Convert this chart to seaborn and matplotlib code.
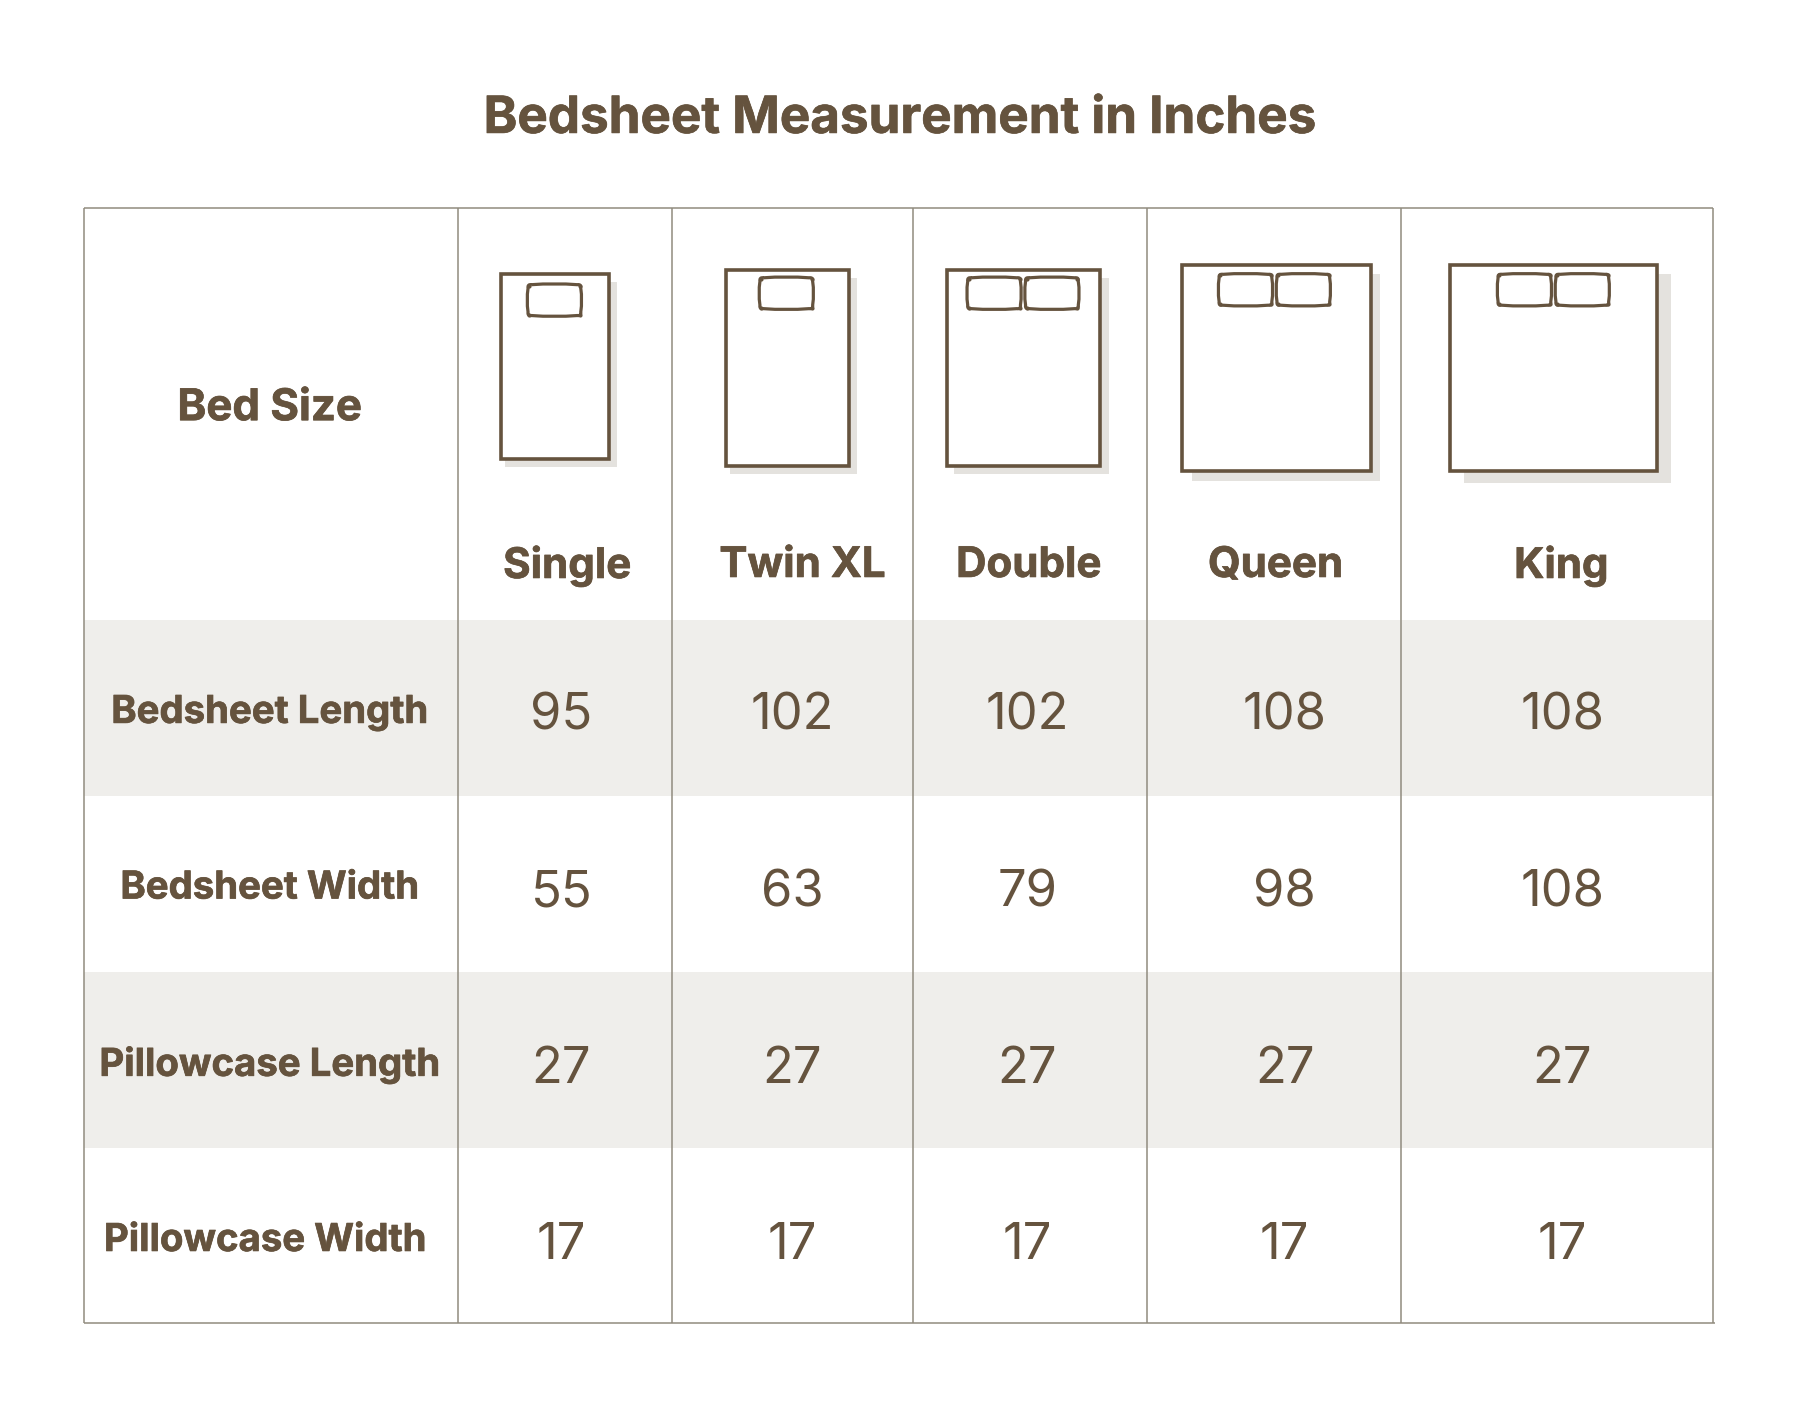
import numpy as np
import matplotlib
matplotlib.use("Agg")
import matplotlib.pyplot as plt
import matplotlib.patheffects as pe
from matplotlib.patches import Rectangle, PathPatch
from matplotlib.path import Path
from matplotlib.colors import ListedColormap
import seaborn as sns

# ---- data ----
title = "Bedsheet Measurement in Inches"
corner_label = "Bed Size"
bed_sizes = ["Single", "Twin XL", "Double", "Queen", "King"]
row_labels = ["Bedsheet Length", "Bedsheet Width", "Pillowcase Length", "Pillowcase Width"]
bedsheet_length = [95, 102, 102, 108, 108]
bedsheet_width = [55, 63, 79, 98, 108]
pillowcase_length = [27, 27, 27, 27, 27]
pillowcase_width = [17, 17, 17, 17, 17]
pillow_count = [1, 1, 2, 2, 2]

# ---- layout (reference pixels) ----
S = 1800 / 1568
TXT = "#65533e"
GRID = "#918b7f"
BAND = "#efeeeb"
SHADOW = "#e4e2de"
col_edges = [73.1, 399.1, 585.1, 795.1, 999.1, 1220.1, 1492.1]
row_edges = [181.1, 540, 693, 847, 1000, 1153]
value_x = [489, 690, 895, 1119, 1361]
value_y = [624, 778, 932, 1085]
label_x = [235, 235, 235, 231]
label_y = [621, 774, 928, 1081]
name_x = [494, 699, 896, 1111, 1360]
name_y = [493, 493, 493, 493, 493]
bed_left = [436, 632, 825, 1030, 1263]
bed_top = [239, 235, 235, 231, 231]
shadow_l = [4, 4, 6, 8, 12]
shadow_r = [7, 7, 8, 8, 12]
shadow_t = [7, 7, 7, 8, 8]
shadow_b = [7, 7, 7, 8, 10]
pillow_left = [460, 662, 843, 1062, 1305]
pillow_top = [248, 242, 242, 239, 239]
pillow_gap = 4.5

sns.set_theme(style="white")
plt.rcParams["font.family"] = ["Inter", "DejaVu Sans"]

fig = plt.figure(figsize=(18, 14.02), dpi=100, facecolor="white")

# striped body rows, drawn as a one-column heatmap
W, H = 1568.0, 1402 / S
ax_band = fig.add_axes([col_edges[0] / W, 1 - row_edges[-1] / H,
                        (col_edges[-1] - col_edges[0]) / W,
                        (row_edges[-1] - row_edges[1]) / H])
stripes = np.array([[(i + 1) % 2] for i in range(len(row_labels))])
sns.heatmap(stripes, ax=ax_band, cbar=False, cmap=ListedColormap(["white", BAND]),
            xticklabels=False, yticklabels=False, vmin=0, vmax=1)

# overlay in reference pixels
ax = fig.add_axes([0, 0, 1, 1], facecolor="none")
ax.set_xlim(0, W)
ax.set_ylim(H, 0)
ax.axis("off")

bottom = row_edges[-1] - 0.6
for x in col_edges:
    ax.plot([x, x], [row_edges[0], bottom], color=GRID, lw=1.1, solid_capstyle="butt")
ax.plot([col_edges[0], col_edges[-1]], [row_edges[0]] * 2, color=GRID, lw=1.1, solid_capstyle="butt")
ax.plot([col_edges[0], col_edges[-1] + 2], [bottom] * 2, color=GRID, lw=1.1, solid_capstyle="butt")

heavy = [pe.withStroke(linewidth=0.5, foreground=TXT)]


def pillow(x, y, w, h):
    b, r = 1.6, 3.0
    v = [(x + r, y), (x + w / 2, y - b), (x + w - r, y),
         (x + w + 0.6, y - 0.6), (x + w, y + r),
         (x + w + b, y + h / 2), (x + w, y + h - r),
         (x + w + 0.6, y + h + 0.6), (x + w - r, y + h),
         (x + w / 2, y + h + b), (x + r, y + h),
         (x - 0.6, y + h + 0.6), (x, y + h - r),
         (x - b, y + h / 2), (x, y + r),
         (x - 0.6, y - 0.6), (x + r, y)]
    codes = [Path.MOVETO] + [Path.CURVE3] * 16
    ax.add_patch(PathPatch(Path(v, codes), fc="white", ec=TXT, lw=2.3, joinstyle="round", zorder=5))
    for cx in (x + 0.8, x + w - 0.8):
        for cy in (y + 0.8, y + h - 0.8):
            ax.plot([cx], [cy], "o", ms=3.0, color=TXT, mew=0, zorder=6)


for i, name in enumerate(bed_sizes):
    w = bedsheet_width[i] * 1.62 + 5.5
    h = bedsheet_length[i] * 1.45 + 23
    ax.add_patch(Rectangle((bed_left[i] + shadow_l[i], bed_top[i] + shadow_t[i]),
                           w + shadow_r[i] - shadow_l[i], h + shadow_b[i] - shadow_t[i],
                           fc=SHADOW, ec="none", zorder=2))
    ax.add_patch(Rectangle((bed_left[i], bed_top[i]), w, h, fc="white", ec=TXT, lw=2.6, zorder=3))
    pw, ph = pillowcase_length[i] * 1.7, pillowcase_width[i] * 1.58
    for k in range(pillow_count[i]):
        pillow(pillow_left[i] + k * (pw + pillow_gap), pillow_top[i], pw, ph)
    ax.text(name_x[i], name_y[i], name, ha="center", va="center", color=TXT,
            fontsize=30.3, fontweight="bold", path_effects=heavy)

ax.text(784, 104, title, ha="center", va="center", color=TXT, fontsize=36.8,
        fontweight="bold", path_effects=heavy)
ax.text(235, 356, corner_label, ha="center", va="center", color=TXT, fontsize=31.5,
        fontweight="bold", path_effects=heavy)

table = [bedsheet_length, bedsheet_width, pillowcase_length, pillowcase_width]
for r, label in enumerate(row_labels):
    ax.text(label_x[r], label_y[r], label, ha="center", va="center", color=TXT,
            fontsize=27.6, fontweight="bold", path_effects=heavy)
    for c, val in enumerate(table[r]):
        ax.text(value_x[c], value_y[r], str(val), ha="center", va="center", color=TXT,
                fontsize=36.5, fontweight="normal")

fig.savefig("out.png", dpi=100, facecolor="white")
